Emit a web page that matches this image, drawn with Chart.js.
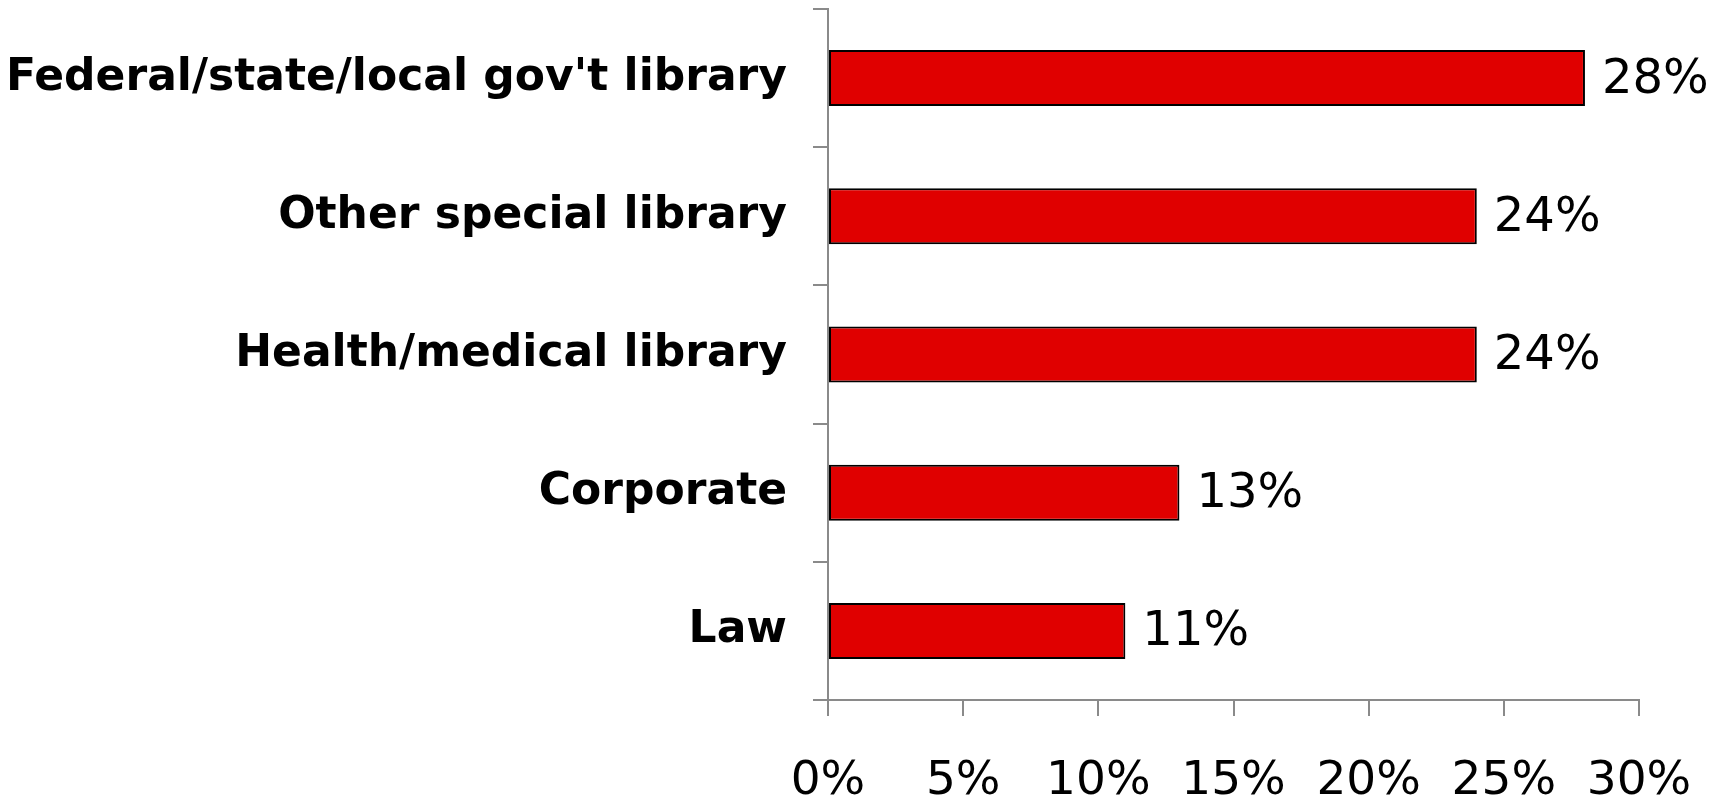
<!DOCTYPE html>
<html>
<head>
<meta charset="utf-8">
<script src="https://cdn.jsdelivr.net/npm/chart.js@4/dist/chart.umd.min.js"></script>
<style>
  html, body { margin: 0; padding: 0; background: #fff; }
  #wrap { width: 1731px; height: 799px; position: relative; }
</style>
</head>
<body>
<div id="wrap"><canvas id="c"></canvas></div>
<script>
const categories = ["Federal/state/local gov't library", "Other special library", "Health/medical library", "Corporate", "Law"];
const values = [28, 24, 24, 13, 11];
const tickValues = [0, 5, 10, 15, 20, 25, 30];

const dataLabels = {
  id: 'dataLabels',
  afterDatasetsDraw(chart) {
    const ctx = chart.ctx;
    const meta = chart.getDatasetMeta(0);
    ctx.save();
    ctx.font = '48px "DejaVu Sans", Verdana, sans-serif';
    ctx.fillStyle = '#000';
    ctx.textAlign = 'left';
    ctx.textBaseline = 'middle';
    meta.data.forEach((bar, i) => {
      ctx.fillText(values[i] + '%', bar.x + 17, bar.y + 2);
    });
    ctx.restore();
  }
};

new Chart(document.getElementById('c'), {
  type: 'bar',
  data: {
    labels: categories,
    datasets: [{
      data: values,
      backgroundColor: '#e00000',
      borderColor: '#000000',
      borderWidth: 2,
      borderSkipped: false,
      categoryPercentage: 0.405,
      barPercentage: 1.0
    }]
  },
  options: {
    indexAxis: 'y',
    responsive: true,
    maintainAspectRatio: false,
    animation: false,
    layout: { padding: { top: 9, right: 92, left: 0, bottom: 0 } },
    plugins: { legend: { display: false }, tooltip: { enabled: false } },
    scales: {
      x: {
        min: 0, max: 30,
        afterBuildTicks(scale) { scale.ticks = tickValues.map(v => ({ value: v })); },
        afterFit(scale) { scale.height = 99; },
        grid: { drawOnChartArea: false, tickLength: 16, color: '#8a8a8a', lineWidth: 2 },
        border: { color: '#8a8a8a', width: 2 },
        ticks: {
          padding: 38,
          color: '#000',
          font: { family: '"DejaVu Sans", Verdana, sans-serif', size: 47 },
          maxRotation: 0,
          callback: v => v + '%'
        }
      },
      y: {
        offset: true,
        afterFit(scale) { scale.width = 828; scale.paddingTop = 0; scale.paddingBottom = 0; },
        grid: { offset: true, drawOnChartArea: false, tickLength: 15, color: '#8a8a8a', lineWidth: 2 },
        border: { color: '#8a8a8a', width: 2 },
        ticks: {
          padding: 26,
          color: '#000',
          font: { family: '"DejaVu Sans", Verdana, sans-serif', size: 44, weight: 'bold' }
        }
      }
    }
  },
  plugins: [dataLabels]
});
</script>
</body>
</html>
